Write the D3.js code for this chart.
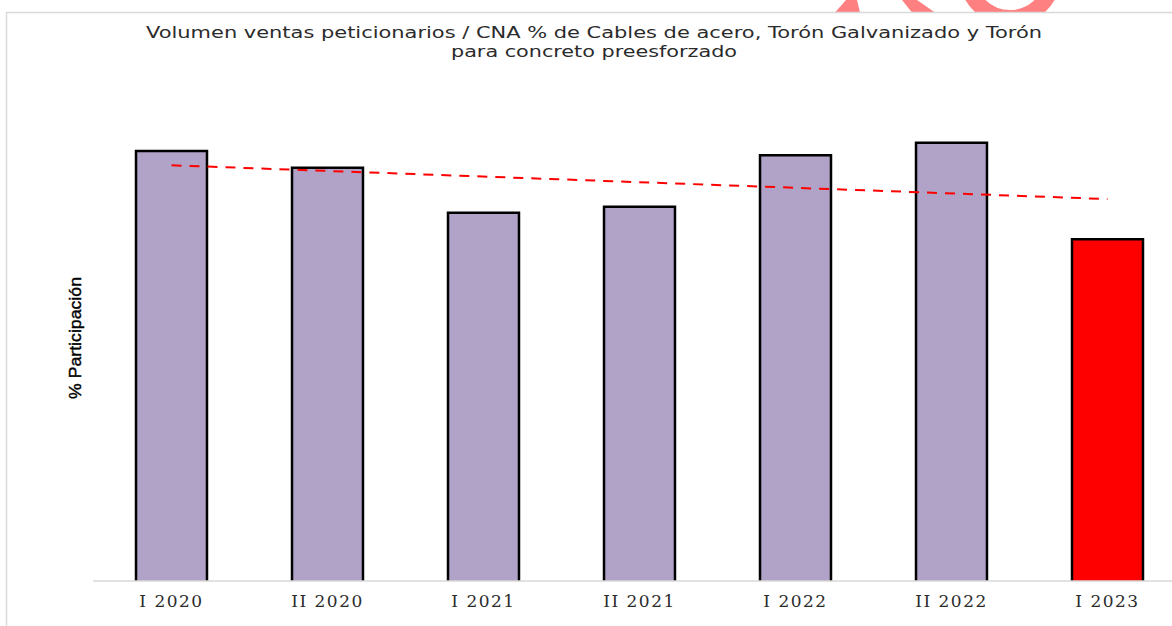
<!DOCTYPE html>
<html>
<head>
<meta charset="utf-8">
<script src="https://cdn.jsdelivr.net/npm/d3@7"></script>
<style>
  html, body { margin: 0; padding: 0; background: #fff; }
  svg { display: block; }
</style>
</head>
<body>
<div id="chart"></div>
<script>
// chart data
const periods = ["I 2020", "II 2020", "I 2021", "II 2021", "I 2022", "II 2022", "I 2023"];
const participation = [51.6, 49.6, 44.2, 44.9, 51.1, 52.6, 41.0];
const highlightPeriod = "I 2023";
const titleLines = [
  "Volumen ventas peticionarios / CNA % de Cables de acero, Torón Galvanizado y Torón",
  "para concreto preesforzado"
];
const yLabel = "% Participación";

const width = 1172, height = 626;

const svg = d3.select("#chart")
  .append("svg")
  .attr("width", width)
  .attr("height", height);

// pale red watermark remnant above the frame
const wm = svg.append("g").attr("fill", "#ff8080");
svg.append("clipPath").attr("id", "topclip")
  .append("rect").attr("x", 0).attr("y", 0).attr("width", width).attr("height", 12.5);
wm.append("path").attr("d", "M846,0 L857,0 L860,12.5 L835,12.5 Z");
wm.append("path").attr("d", "M902,0 L917,0 L935,12.5 L912,12.5 Z");
svg.append("circle")
  .attr("clip-path", "url(#topclip)")
  .attr("cx", 1010).attr("cy", -25).attr("r", 43)
  .attr("fill", "none").attr("stroke", "#ff8080").attr("stroke-width", 16);

// frame lines
svg.append("line")
  .attr("x1", 6).attr("x2", width).attr("y1", 12.5).attr("y2", 12.5)
  .attr("stroke", "#d9d9d9").attr("stroke-width", 1.5);
svg.append("line")
  .attr("x1", 6.5).attr("x2", 6.5).attr("y1", 12.5).attr("y2", height)
  .attr("stroke", "#d9d9d9").attr("stroke-width", 1.5);

const x = d3.scaleBand()
  .domain(periods)
  .range([93.5, 1185.5])
  .paddingInner(0.545)
  .paddingOuter(0.2725);

const y = d3.scaleLinear()
  .domain([0, 60])
  .range([581, 81]);

// title
svg.append("g")
  .selectAll("text")
  .data(titleLines)
  .join("text")
  .attr("x", 594)
  .attr("y", (d, i) => 38 + i * 19)
  .attr("text-anchor", "middle")
  .attr("font-family", "DejaVu Sans, Verdana, sans-serif")
  .attr("font-size", 16)
  .attr("fill", "#2b2b2b")
  .attr("textLength", (d, i) => i === 0 ? 896 : 286)
  .attr("lengthAdjust", "spacingAndGlyphs")
  .text(d => d);

// y axis label
svg.append("text")
  .attr("transform", "translate(81,338) rotate(-90)")
  .attr("text-anchor", "middle")
  .attr("font-family", "Liberation Sans, Arial, sans-serif")
  .attr("font-size", 17)
  .attr("fill", "#000")
  .attr("stroke", "#000")
  .attr("stroke-width", 0.4)
  .attr("textLength", 122)
  .attr("lengthAdjust", "spacingAndGlyphs")
  .text(yLabel);

// bars (open at the bottom, baseline drawn over)
const rows = periods.map((p, i) => ({ period: p, value: participation[i] }));

svg.append("g")
  .selectAll("path")
  .data(rows)
  .join("path")
  .attr("d", d => {
    const x0 = x(d.period), x1 = x0 + x.bandwidth();
    return `M${x0},${y(0)} V${y(d.value)} H${x1} V${y(0)}`;
  })
  .attr("fill", d => d.period === highlightPeriod ? "#ff0000" : "#b1a2c7")
  .attr("stroke", "#000")
  .attr("stroke-width", 2.5)
  .attr("stroke-linejoin", "miter");

// baseline
svg.append("line")
  .attr("x1", 93).attr("x2", width)
  .attr("y1", y(0)).attr("y2", y(0))
  .attr("stroke", "#d9d9d9").attr("stroke-width", 1.5);

// linear trend line over all periods
const n = participation.length;
const meanI = (n - 1) / 2;
const meanV = d3.mean(participation);
const slope = d3.sum(participation, (v, i) => (i - meanI) * (v - meanV)) /
  d3.sum(participation, (v, i) => (i - meanI) * (i - meanI));
const trend = [0, n - 1].map(i => ({ i, v: meanV + slope * (i - meanI) }));

svg.append("path")
  .datum(trend)
  .attr("d", d3.line()
    .x(d => x(periods[d.i]) + x.bandwidth() / 2)
    .y(d => y(d.v)))
  .attr("fill", "none")
  .attr("stroke", "#ff0000")
  .attr("stroke-width", 2)
  .attr("stroke-dasharray", "10,8");

// category labels
svg.append("g")
  .selectAll("text")
  .data(periods)
  .join("text")
  .attr("x", d => x(d) + x.bandwidth() / 2)
  .attr("y", 607)
  .attr("text-anchor", "middle")
  .attr("font-family", "DejaVu Serif, Georgia, serif")
  .attr("font-size", 17)
  .attr("letter-spacing", 1.5)
  .attr("fill", "#2b2b2b")
  .text(d => d);
</script>
</body>
</html>
